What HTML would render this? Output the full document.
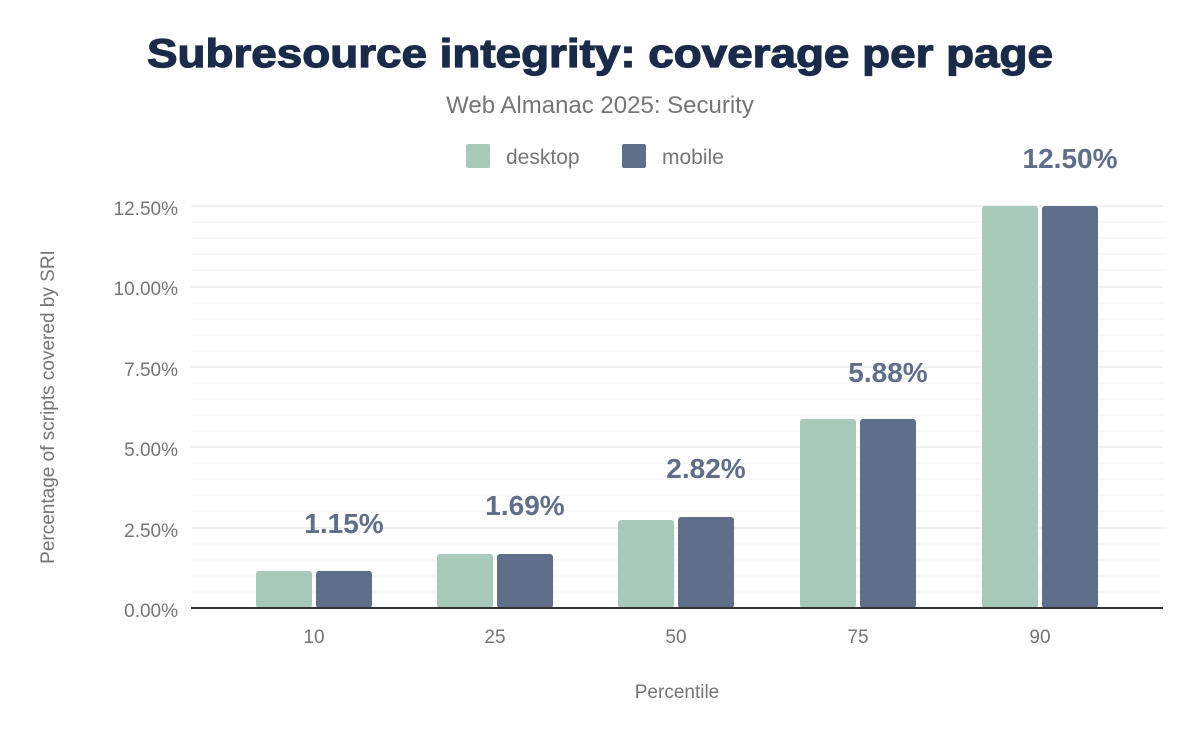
<!DOCTYPE html><html><head><style>body{margin:0;background:#fff}</style></head><body>
<svg width="1200" height="742" xmlns="http://www.w3.org/2000/svg" font-family="Liberation Sans, sans-serif">
<text x="600" y="67" text-anchor="middle" font-size="40" font-weight="900" fill="#1a2b4a" stroke="#1a2b4a" stroke-width="1.2" textLength="906" lengthAdjust="spacingAndGlyphs">Subresource integrity: coverage per page</text>
<text x="600" y="113" text-anchor="middle" font-size="24" fill="#757575">Web Almanac 2025: Security</text>
<rect x="466" y="144" width="24" height="24" rx="2" fill="#a7c9b9"/><text x="506" y="164" font-size="21" fill="#757575">desktop</text>
<rect x="622" y="144" width="24" height="24" rx="2" fill="#5f6f8a"/><text x="662" y="164" font-size="21" fill="#757575">mobile</text>
<g font-size="19" fill="#757575" text-anchor="end">
<text x="178" y="215">12.50%</text><text x="178" y="295">10.00%</text><text x="178" y="376">7.50%</text><text x="178" y="456">5.00%</text><text x="178" y="537">2.50%</text><text x="178" y="617">0.00%</text>
</g>
<g stroke="#ececec" stroke-width="1.5">
<line x1="191" x2="1163" y1="206" y2="206"/><line x1="191" x2="1163" y1="222" y2="222" stroke="#f5f5f5"/><line x1="191" x2="1163" y1="238" y2="238" stroke="#f5f5f5"/><line x1="191" x2="1163" y1="254" y2="254" stroke="#f5f5f5"/><line x1="191" x2="1163" y1="270" y2="270" stroke="#f5f5f5"/>
<line x1="191" x2="1163" y1="287" y2="287"/><line x1="191" x2="1163" y1="303" y2="303" stroke="#f5f5f5"/><line x1="191" x2="1163" y1="319" y2="319" stroke="#f5f5f5"/><line x1="191" x2="1163" y1="335" y2="335" stroke="#f5f5f5"/><line x1="191" x2="1163" y1="351" y2="351" stroke="#f5f5f5"/>
<line x1="191" x2="1163" y1="367" y2="367"/><line x1="191" x2="1163" y1="383" y2="383" stroke="#f5f5f5"/><line x1="191" x2="1163" y1="399" y2="399" stroke="#f5f5f5"/><line x1="191" x2="1163" y1="415" y2="415" stroke="#f5f5f5"/><line x1="191" x2="1163" y1="431" y2="431" stroke="#f5f5f5"/>
<line x1="191" x2="1163" y1="447" y2="447"/><line x1="191" x2="1163" y1="463" y2="463" stroke="#f5f5f5"/><line x1="191" x2="1163" y1="479" y2="479" stroke="#f5f5f5"/><line x1="191" x2="1163" y1="495" y2="495" stroke="#f5f5f5"/><line x1="191" x2="1163" y1="511" y2="511" stroke="#f5f5f5"/>
<line x1="191" x2="1163" y1="528" y2="528"/><line x1="191" x2="1163" y1="544" y2="544" stroke="#f5f5f5"/><line x1="191" x2="1163" y1="560" y2="560" stroke="#f5f5f5"/><line x1="191" x2="1163" y1="576" y2="576" stroke="#f5f5f5"/><line x1="191" x2="1163" y1="592" y2="592" stroke="#f5f5f5"/>
</g>
<g fill="#a7c9b9">
<rect x="256" y="571" width="56" height="37" rx="3"/><rect x="437" y="554" width="56" height="54" rx="3"/><rect x="618" y="520" width="56" height="88" rx="3"/><rect x="800" y="419" width="56" height="189" rx="3"/><rect x="982" y="206" width="56" height="402" rx="3"/>
</g>
<g fill="#5f6f8a">
<rect x="316" y="571" width="56" height="37" rx="3"/><rect x="497" y="554" width="56" height="54" rx="3"/><rect x="678" y="517" width="56" height="91" rx="3"/><rect x="860" y="419" width="56" height="189" rx="3"/><rect x="1042" y="206" width="56" height="402" rx="3"/>
</g>
<line x1="191" x2="1163" y1="608" y2="608" stroke="#333" stroke-width="2"/>
<g font-size="28" font-weight="bold" fill="#5f6f8a" text-anchor="middle">
<text x="344" y="533">1.15%</text><text x="525" y="515">1.69%</text><text x="706" y="478">2.82%</text><text x="888" y="382">5.88%</text><text x="1070" y="168">12.50%</text>
</g>
<g font-size="19" fill="#757575" text-anchor="middle">
<text x="314" y="643">10</text><text x="495" y="643">25</text><text x="676" y="643">50</text><text x="858" y="643">75</text><text x="1040" y="643">90</text>
<text x="677" y="698">Percentile</text>
<text transform="translate(54,407) rotate(-90)">Percentage of scripts covered by SRI</text>
</g>
</svg></body></html>
